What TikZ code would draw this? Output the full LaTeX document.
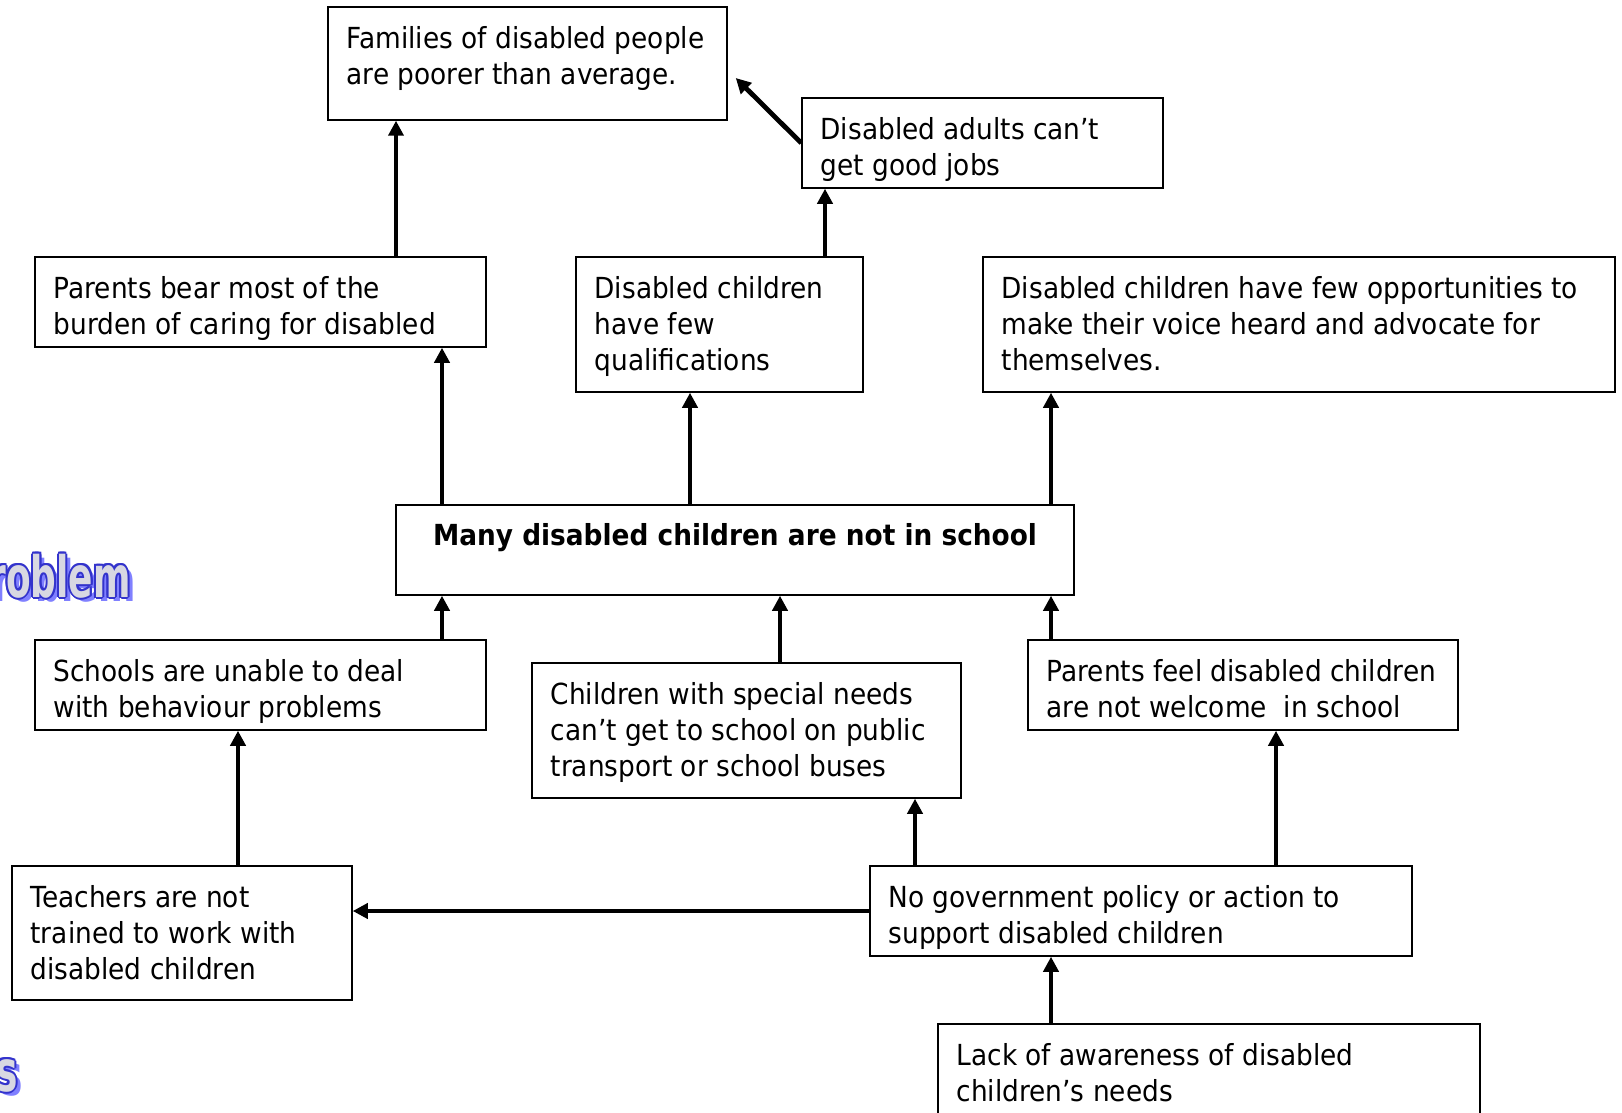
\documentclass[tikz,border=0pt]{standalone}
\usepackage{fontspec}
\usetikzlibrary{arrows.meta,calc}
\setmainfont{DejaVu Sans}[FakeStretch=0.91]
\newfontfamily\artfont{DejaVu Sans}[FakeStretch=0.63]
\newcommand\bodyfont{\fontsize{14.5}{18.2}\selectfont}
\definecolor{artline}{RGB}{51,51,204}
\definecolor{artshadow}{RGB}{128,128,255}
\definecolor{artfill}{RGB}{216,216,226}

\tikzset{
  boxst/.style={draw=black, line width=0.75pt, rectangle, inner sep=0pt, fill=white},
  txtst/.style={anchor=north west, inner sep=0pt, align=left, font=\bodyfont},
  arr/.style={line width=2.4pt, -{Triangle[length=7.5pt,width=7.5pt]}},
  art/.style={anchor=base west, inner sep=0pt, font=\artfont\bfseries\fontsize{28.5}{30}\selectfont},
}

% box: name, left, top, right, bottom (pixel units), text
\newcommand\diabox[6]{%
  \node[boxst, minimum width={(#4-#2)*0.5pt}, minimum height={(#5-#3)*0.5pt}]
    (#1) at ({(#2+#4)/2},{(#3+#5)/2}) {};
  \node[txtst] (#1-t) at ($(#1.north west)+(19,16)$) {\strut #6};
}
% upward arrow from the top of one box to the bottom of another at a given x
\newcommand\uplink[3]{%
  \coordinate (ux) at (#3,0);
  \draw[arr] (#1.north -| ux) -- (#2.south -| ux);
}
% outlined, shadowed display word
\newcommand\wordart[2]{%
  \node[art, text=artshadow] at ($(#1)+(5,4)$) {#2};
  \foreach \dx/\dy in {2/0,-2/0,0/2,0/-2,1.4/1.4,-1.4/1.4,1.4/-1.4,-1.4/-1.4}
    \node[art, text=artline] at ($(#1)+(\dx,\dy)$) {#2};
  \node[art, text=artfill] at (#1) {#2};
}

\begin{document}
\begin{tikzpicture}[x=0.5pt, y=-0.5pt]
\useasboundingbox (0,0) rectangle (1622,1113);
\clip (0,0) rectangle (1622,1113);

% display words at the left margin
\coordinate (wa) at (-12,597);
\coordinate (wb) at (-4,1091);
\wordart{wa}{roblem}
\wordart{wb}{s}

% boxes
\diabox{fam}{328}{7}{727}{120}{Families of disabled people\\are poorer than average.}
\diabox{adl}{802}{98}{1163}{188}{Disabled adults can’t\\get good jobs}
\diabox{pb}{35}{257}{486}{347}{Parents bear most of the\\burden of caring for disabled}
\diabox{qual}{576}{257}{863}{392}{Disabled children\\have few\\qualifications}
\diabox{opp}{983}{257}{1615}{392}{Disabled children have few opportunities to\\make their voice heard and advocate for\\themselves.}
\node[boxst, minimum width={(1074-396)*0.5pt}, minimum height={(595-505)*0.5pt}]
  (many) at ({(396+1074)/2},{(505+595)/2}) {};
\node[font=\bodyfont\bfseries, anchor=base, inner sep=0pt] (many-t)
  at ($(many.north)+(0,41)$) {Many disabled children are not in school};
\diabox{sch}{35}{640}{486}{730}{Schools are unable to deal\\with behaviour problems}
\diabox{csn}{532}{663}{961}{798}{Children with special needs\\can’t get to school on public\\transport or school buses}
\diabox{pf}{1028}{640}{1458}{730}{Parents feel disabled children\\are not welcome\ \ in school}
\diabox{tea}{12}{866}{352}{1000}{Teachers are not\\trained to work with\\disabled children}
\diabox{gov}{870}{866}{1412}{956}{No government policy or action to\\support disabled children}
\diabox{lack}{938}{1024}{1480}{1130}{Lack of awareness of disabled\\children’s needs}

% connectors
\uplink{pb}{fam}{396}
\uplink{qual}{adl}{825}
\coordinate (famtip) at ($(fam.east)+(8,14.5)$);
\draw[arr] (adl.west) -- (famtip);
\uplink{many}{pb}{442}
\uplink{many}{qual}{690}
\uplink{many}{opp}{1051}
\uplink{sch}{many}{442}
\uplink{csn}{many}{780}
\uplink{pf}{many}{1051}
\uplink{tea}{sch}{238}
\uplink{gov}{csn}{915}
\uplink{gov}{pf}{1276}
\uplink{lack}{gov}{1051}
\draw[arr] (gov.west) -- (gov.west -| tea.east);
\end{tikzpicture}
\end{document}
